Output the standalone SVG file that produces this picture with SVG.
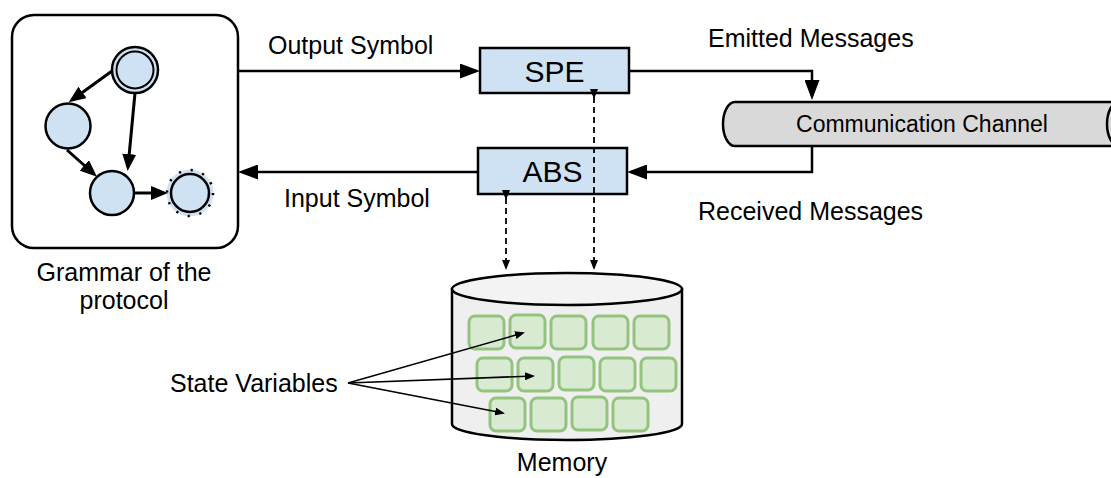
<svg xmlns="http://www.w3.org/2000/svg" width="1111" height="478" viewBox="0 0 1111 478">
<style>
text{font-family:"Liberation Sans",Arial,sans-serif;fill:#000}
.lbl{font-size:25px}
.box{fill:#cfe2f3;stroke:#000;stroke-width:2.5}
.st{fill:#cfe2f3;stroke:#000;stroke-width:2.5}
.conn{fill:none;stroke:#000;stroke-width:2.5}
.gconn{fill:none;stroke:#000;stroke-width:3}
.dash{fill:none;stroke:#000;stroke-width:1.8;stroke-dasharray:6 4}
.thin{fill:none;stroke:#000;stroke-width:1.6}
.var{fill:#d9ead3;stroke:#93c47d;stroke-width:3}
</style>
<defs>
<marker id="big" markerUnits="userSpaceOnUse" markerWidth="20" markerHeight="15" refX="16" refY="7.5" orient="auto"><path d="M0,0 L20,7.5 L0,15 Z" fill="#000"/></marker>
<marker id="gar" markerUnits="userSpaceOnUse" markerWidth="17" markerHeight="14" refX="13" refY="7" orient="auto"><path d="M0,0 L17,7 L0,14 Z" fill="#000"/></marker>
<marker id="sm" markerUnits="userSpaceOnUse" markerWidth="10" markerHeight="8" refX="8" refY="4" orient="auto"><path d="M0,0 L10,4 L0,8 Z" fill="#000"/></marker>
</defs>

<g id="grammar">
<rect x="12" y="15" width="226" height="233" rx="22" fill="#fff" stroke="#000" stroke-width="2.5"/>
<circle cx="135" cy="70" r="23" class="st"/>
<circle cx="135" cy="70" r="18.5" fill="none" stroke="#000" stroke-width="2"/>
<circle cx="68" cy="126" r="22.5" class="st"/>
<circle cx="112" cy="193" r="22" class="st"/>
<circle cx="190" cy="193" r="21.5" fill="none" stroke="#cfe2f3" stroke-width="4"/>
<circle cx="190" cy="193" r="19" class="st"/>
<circle cx="190" cy="193" r="23" fill="none" stroke="#000" stroke-width="2.5" stroke-dasharray="2.2 9.84"/>
<path class="gconn" d="M112,71 L72,100" marker-end="url(#gar)"/>
<path class="gconn" d="M135,93 L128,167" marker-end="url(#gar)"/>
<path class="gconn" d="M67,150 L94,174" marker-end="url(#gar)"/>
<path class="gconn" d="M134,193 L164,193" marker-end="url(#gar)"/>
<text class="lbl" x="124" y="281" text-anchor="middle">Grammar of the</text>
<text class="lbl" x="124" y="309" text-anchor="middle">protocol</text>
</g>

<g id="spe">
<rect class="box" x="480" y="48" width="149" height="45"/>
<text x="554.5" y="82" font-size="30" text-anchor="middle">SPE</text>
</g>

<g id="abs">
<rect class="box" x="478" y="148" width="149" height="46"/>
<text x="552.5" y="182" font-size="30" text-anchor="middle">ABS</text>
</g>

<g id="channel">
<path d="M735,102 L1130,102 L1130,146 L735,146 A12 22 0 0 1 735,102 Z" fill="#d9d9d9" stroke="#000" stroke-width="2.5"/>
<ellipse cx="1119" cy="124" rx="12" ry="22" fill="#d9d9d9" stroke="#000" stroke-width="2.5"/>
<text x="922" y="132" font-size="23" text-anchor="middle">Communication Channel</text>
</g>

<g id="memory">
<path d="M452,289 L452,424 A115 16 0 0 0 682,424 L682,289 Z" fill="#efefef" stroke="#000" stroke-width="2.5"/>
<ellipse cx="567" cy="289" rx="115" ry="16" fill="#f3f3f3" stroke="#000" stroke-width="2.5"/>
<rect class="var" x="469" y="316" width="35" height="33" rx="6"/>
<rect class="var" x="510" y="315" width="35" height="33" rx="6"/>
<rect class="var" x="551" y="316" width="35" height="33" rx="6"/>
<rect class="var" x="593" y="316" width="35" height="33" rx="6"/>
<rect class="var" x="634" y="316" width="35" height="33" rx="6"/>
<rect class="var" x="477" y="358" width="35" height="33" rx="6"/>
<rect class="var" x="518" y="358" width="35" height="33" rx="6"/>
<rect class="var" x="559" y="357" width="35" height="33" rx="6"/>
<rect class="var" x="600" y="358" width="35" height="33" rx="6"/>
<rect class="var" x="641" y="358" width="35" height="33" rx="6"/>
<rect class="var" x="490" y="398" width="35" height="33" rx="6"/>
<rect class="var" x="531" y="398" width="35" height="33" rx="6"/>
<rect class="var" x="572" y="397" width="35" height="33" rx="6"/>
<rect class="var" x="613" y="398" width="35" height="33" rx="6"/>
<text class="lbl" x="562" y="471" text-anchor="middle">Memory</text>
</g>

<g id="state-variables">
<text class="lbl" x="170" y="392">State Variables</text>
</g>

<g id="connectors">
<path class="conn" d="M238,71 L476,71" marker-end="url(#big)"/>
<path class="conn" d="M629,71 L812,71 L812,96" marker-end="url(#big)"/>
<path class="conn" d="M812,146 L812,172 L631,172" marker-end="url(#big)"/>
<path class="conn" d="M478,172 L242,172" marker-end="url(#big)"/>
<path class="dash" d="M594,97 L594,268" marker-start="url(#sm)" marker-end="url(#sm)"/>
<path class="dash" d="M506,198 L506,268" marker-start="url(#sm)" marker-end="url(#sm)"/>
<path class="thin" d="M348,383 L523,333" marker-end="url(#sm)"/>
<path class="thin" d="M348,383 L533,376" marker-end="url(#sm)"/>
<path class="thin" d="M348,383 L503,413" marker-end="url(#sm)"/>
<text class="lbl" x="268" y="54">Output Symbol</text>
<text class="lbl" x="284" y="207">Input Symbol</text>
<text class="lbl" x="708" y="47">Emitted Messages</text>
<text class="lbl" x="698" y="220">Received Messages</text>
</g>
</svg>
